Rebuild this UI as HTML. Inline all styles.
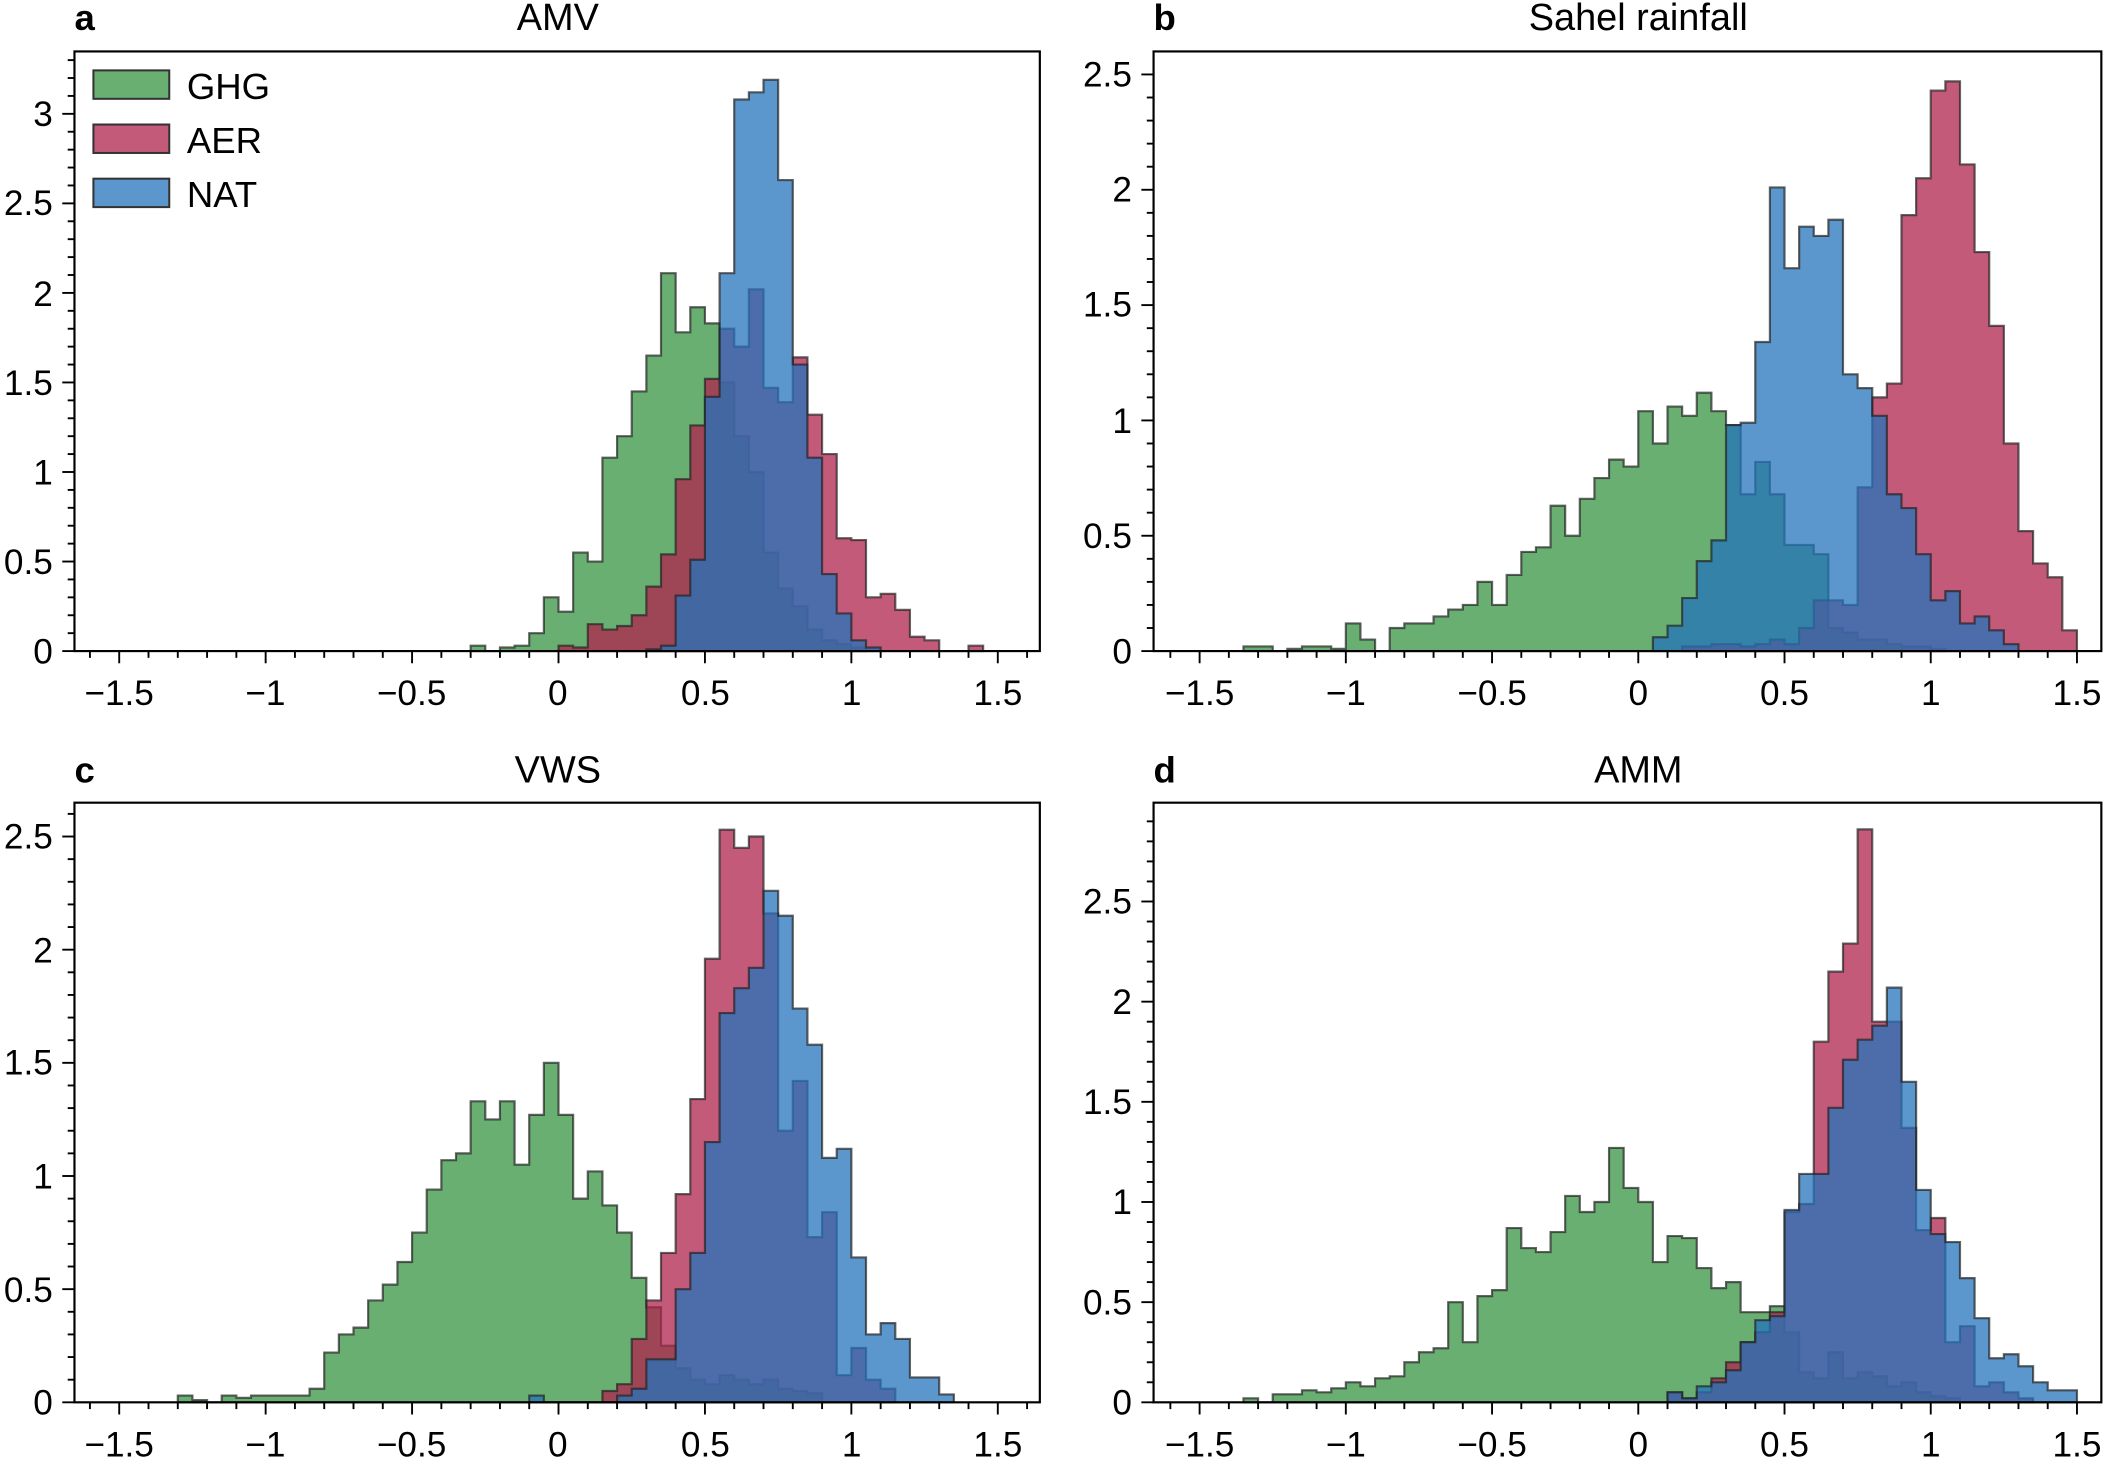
<!DOCTYPE html>
<html><head><meta charset="utf-8"><style>
html,body{margin:0;padding:0;background:#fff}
svg{display:block}
text{font-family:"Liberation Sans",Arial,sans-serif;fill:#000}
</style></head><body>
<svg id="s" width="2123" height="1470" viewBox="0 0 1568 1086" preserveAspectRatio="none" xmlns="http://www.w3.org/2000/svg">
<g id="hist"></g>
<g font-size="28" text-anchor="middle">
<text x="412" y="22">AMV</text>
<text x="1210" y="22">Sahel rainfall</text>
<text x="412" y="578">VWS</text>
<text x="1210" y="578">AMM</text>
</g>
<g font-size="27" font-weight="bold">
<text x="55" y="22">a</text><text x="852" y="22">b</text>
<text x="55" y="578">c</text><text x="852" y="578">d</text>
</g>
<g font-size="26" text-anchor="middle">
<text x="88" y="521">−1.5</text><text x="196" y="521">−1</text><text x="304" y="521">−0.5</text><text x="412" y="521">0</text><text x="521" y="521">0.5</text><text x="629" y="521">1</text><text x="737" y="521">1.5</text>
<text x="886" y="521">−1.5</text><text x="994" y="521">−1</text><text x="1102" y="521">−0.5</text><text x="1210" y="521">0</text><text x="1318" y="521">0.5</text><text x="1426" y="521">1</text><text x="1534" y="521">1.5</text>
<text x="88" y="1076">−1.5</text><text x="196" y="1076">−1</text><text x="304" y="1076">−0.5</text><text x="412" y="1076">0</text><text x="521" y="1076">0.5</text><text x="629" y="1076">1</text><text x="737" y="1076">1.5</text>
<text x="886" y="1076">−1.5</text><text x="994" y="1076">−1</text><text x="1102" y="1076">−0.5</text><text x="1210" y="1076">0</text><text x="1318" y="1076">0.5</text><text x="1426" y="1076">1</text><text x="1534" y="1076">1.5</text>
</g>
<g font-size="26" text-anchor="end">
<text x="39" y="490">0</text><text x="39" y="424">0.5</text><text x="39" y="358">1</text><text x="39" y="292">1.5</text><text x="39" y="226">2</text><text x="39" y="159">2.5</text><text x="39" y="93">3</text>
<text x="836" y="490">0</text><text x="836" y="405">0.5</text><text x="836" y="320">1</text><text x="836" y="234">1.5</text><text x="836" y="149">2</text><text x="836" y="64">2.5</text>
<text x="39" y="1045">0</text><text x="39" y="962">0.5</text><text x="39" y="878">1</text><text x="39" y="794">1.5</text><text x="39" y="711">2</text><text x="39" y="627">2.5</text>
<text x="836" y="1045">0</text><text x="836" y="971">0.5</text><text x="836" y="897">1</text><text x="836" y="823">1.5</text><text x="836" y="749">2</text><text x="836" y="675">2.5</text>
</g>
<g font-size="27">
<rect x="69" y="52" width="56" height="21" fill="#6aaf72" stroke="#333" stroke-width="1.5"/>
<rect x="69" y="92" width="56" height="21" fill="#c45a7a" stroke="#333" stroke-width="1.5"/>
<rect x="69" y="132" width="56" height="21" fill="#5b96cc" stroke="#333" stroke-width="1.5"/>
<text x="138" y="73">GHG</text><text x="138" y="113">AER</text><text x="138" y="153">NAT</text>
</g>
</svg>
<script>
var P=[
{L:55,R:768,T:38,B:481,x0:412.5,ux:216.3,uy:132.3,ymax:3.3,
G:[-0.3,[0.03,0,0.02,0.03,0.1,0.3,0.22,0.55,0.5,1.08,1.2,1.45,1.65,2.11,1.78,1.92,1.83,1.5,1.2,1.0,0.55,0.35,0.25,0.12,0.06,0.04,0.02]],
A:[0,[0.03,0.02,0.15,0.12,0.14,0.2,0.36,0.54,0.96,1.26,1.52,1.8,1.7,2.02,1.47,1.39,1.64,1.32,1.1,0.63,0.62,0.3,0.32,0.23,0.08,0.06,0,0,0.03]],
N:[0.3,[0.01,0.03,0.31,0.51,1.42,2.11,3.08,3.12,3.19,2.63,1.6,1.08,0.43,0.21,0.06,0.02]]},
{L:852,R:1552,T:38,B:481,x0:1210,ux:216,uy:170.4,ymax:2.6,
G:[-1.35,[0.02,0.02,0,0.01,0.02,0.02,0.01,0.12,0.05,0,0.1,0.12,0.12,0.15,0.18,0.2,0.3,0.2,0.33,0.43,0.45,0.63,0.5,0.66,0.75,0.83,0.8,1.04,0.9,1.06,1.02,1.12,1.04,0.98,0.68,0.82,0.68,0.46,0.46,0.42,0.1,0.08,0.05,0.05,0.03,0.02,0.02,0.01]],
A:[0.15,[0.02,0.02,0.03,0.03,0.02,0.03,0.05,0.03,0.1,0.22,0.22,0.2,0.71,1.1,1.16,1.89,2.05,2.43,2.47,2.11,1.73,1.41,0.9,0.52,0.38,0.32,0.09]],
N:[0.05,[0.06,0.11,0.23,0.39,0.48,0.98,0.99,1.34,2.01,1.66,1.84,1.8,1.87,1.2,1.14,1.02,0.68,0.62,0.42,0.22,0.26,0.12,0.15,0.09,0.03]]},
{L:55,R:768,T:593,B:1036,x0:412.5,ux:216.3,uy:167.2,ymax:2.65,
G:[-1.3,[0.03,0.01,0,0.03,0.02,0.03,0.03,0.03,0.03,0.06,0.22,0.3,0.33,0.45,0.52,0.62,0.75,0.94,1.07,1.1,1.33,1.25,1.33,1.05,1.27,1.5,1.27,0.9,1.02,0.87,0.75,0.55,0.42,0.25,0.15,0.1,0.08,0.12,0.1,0.08,0.1,0.06,0.05,0.04]],
A:[0.15,[0.05,0.08,0.28,0.45,0.66,0.92,1.34,1.96,2.53,2.45,2.5,2.16,1.2,1.42,0.73,0.84,0.12,0.24,0.1,0.06]],
N:[-0.1,[0.03,0,0,0,0,0,0.03,0.06,0.19,0.19,0.5,0.66,1.15,1.72,1.83,1.92,2.26,2.15,1.74,1.58,1.08,1.12,0.64,0.3,0.35,0.28,0.11,0.11,0.035]]},
{L:852,R:1552,T:593,B:1036,x0:1210,ux:216,uy:148,ymax:2.99,
G:[-1.35,[0.02,0,0.04,0.04,0.06,0.05,0.07,0.1,0.08,0.12,0.13,0.2,0.25,0.27,0.5,0.3,0.53,0.56,0.87,0.77,0.75,0.85,1.03,0.95,1.0,1.27,1.07,1.0,0.7,0.83,0.82,0.67,0.57,0.6,0.45,0.45,0.48,0.35,0.15,0.12,0.25,0.12,0.15,0.13,0.08,0.1,0.05,0.03,0.02]],
A:[0.1,[0.05,0.02,0.05,0.12,0.2,0.3,0.35,0.45,0.95,0.99,1.8,2.15,2.29,2.86,1.9,1.9,1.37,0.86,0.92,0.3,0.38,0.08,0.1,0.05,0.02]],
N:[0.1,[0.05,0.02,0.08,0.1,0.16,0.3,0.41,0.43,0.96,1.14,1.14,1.47,1.71,1.81,1.88,2.07,1.6,1.06,0.84,0.8,0.62,0.42,0.22,0.24,0.18,0.1,0.06,0.06]]}
];
var ns="http://www.w3.org/2000/svg",g=document.getElementById('hist');
function el(t,a){var e=document.createElementNS(ns,t);for(var k in a)e.setAttribute(k,a[k]);g.appendChild(e);return e;}
var cols={G:"rgb(56,148,67)",A:"rgb(176,35,77)",N:"rgb(36,115,187)"};
P.forEach(function(p){
 ["G","A","N"].forEach(function(k){
  var s=p[k][0],h=p[k][1],X=function(v){return p.x0+v*p.ux},Y=function(v){return p.B-v*p.uy};
  var d="M"+X(s)+","+p.B;
  for(var i=0;i<h.length;i++){d+=" L"+X(s+i*0.05)+","+Y(h[i])+" L"+X(s+(i+1)*0.05)+","+Y(h[i]);}
  d+=" L"+X(s+h.length*0.05)+","+p.B+"Z";
  el("path",{d:d,fill:cols[k],"fill-opacity":0.75,stroke:"#222","stroke-opacity":0.7,"stroke-width":1.6});
 });
 el("rect",{x:p.L,y:p.T,width:p.R-p.L,height:p.B-p.T,fill:"none",stroke:"#000","stroke-width":1.6});
 for(var i=-16;i<=16;i++){var x=p.x0+i*0.1*p.ux;if(x<p.L||x>p.R)continue;var L=(i%5==0)?9:5;
  el("line",{x1:x,x2:x,y1:p.B,y2:p.B+L,stroke:"#000","stroke-width":1.4});
 }
 for(var i=0;i<=p.ymax*10+0.01;i++){var y=p.B-i*0.1*p.uy;if(y<p.T)continue;var L=(i%5==0)?9:5;
  el("line",{x1:p.L,x2:p.L-L,y1:y,y2:y,stroke:"#000","stroke-width":1.4});}
});
</script>
</body></html>
